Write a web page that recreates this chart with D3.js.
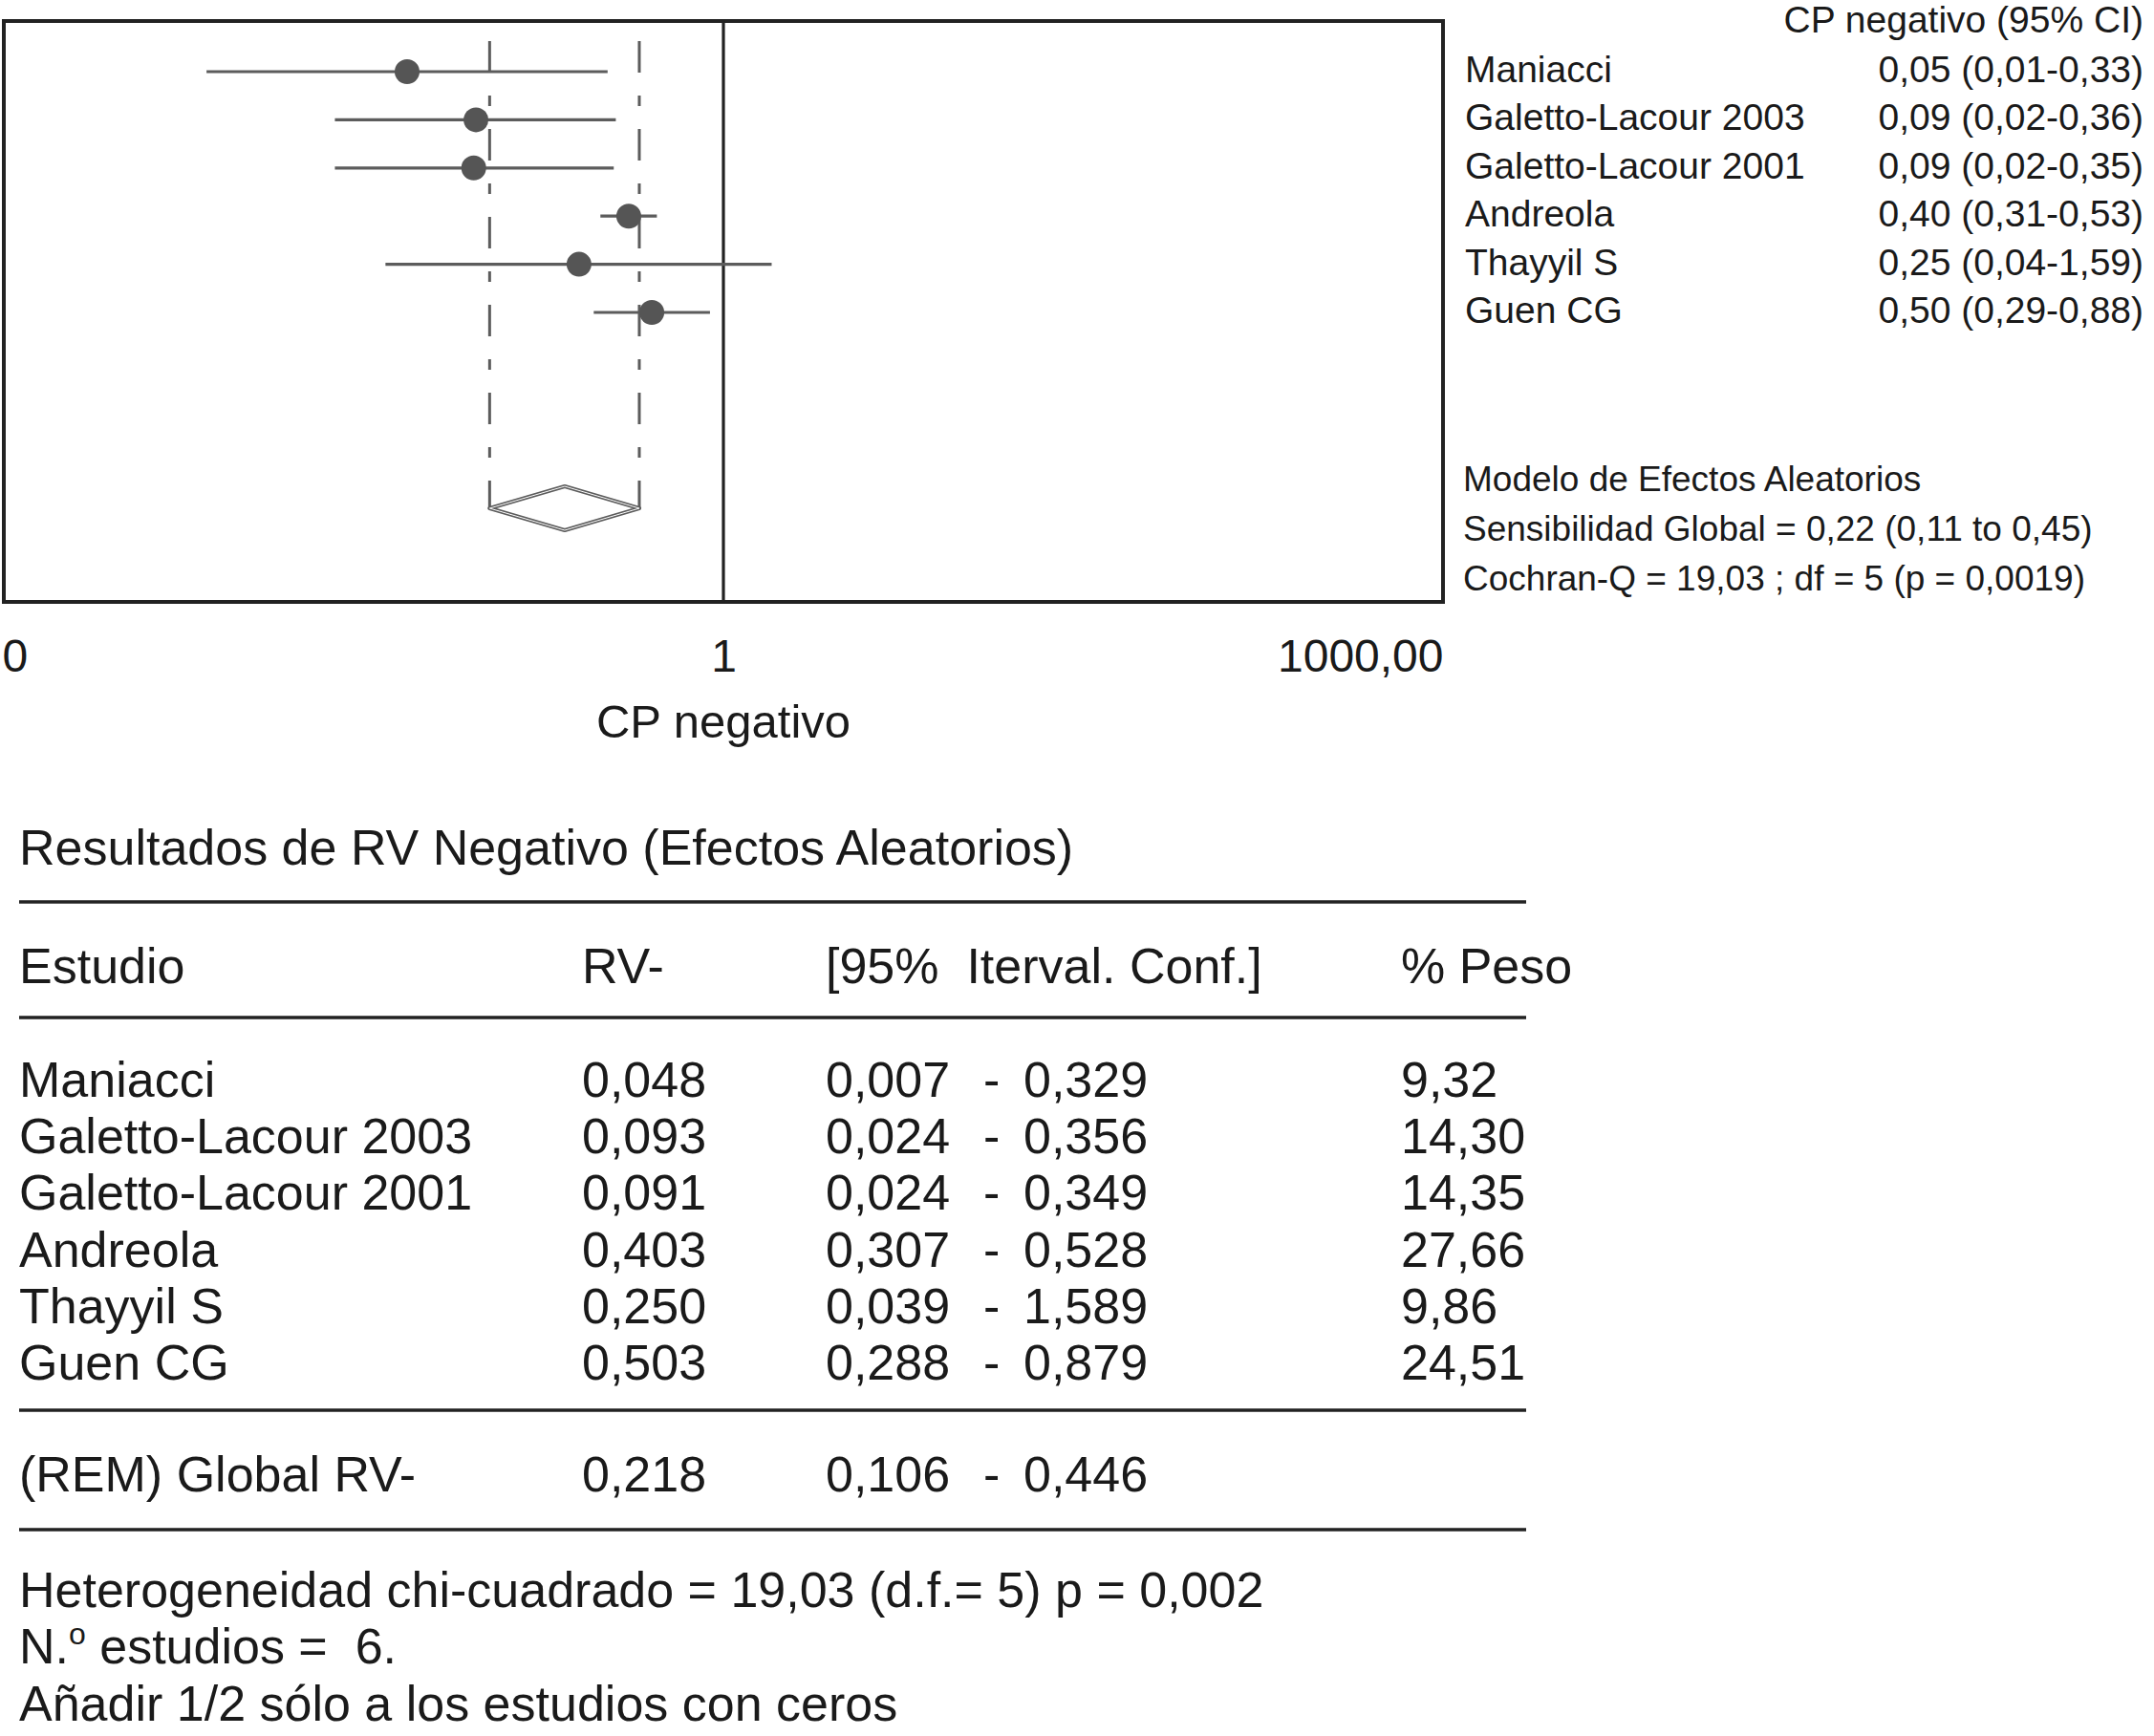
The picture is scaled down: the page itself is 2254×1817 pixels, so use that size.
<!DOCTYPE html>
<html>
<head>
<meta charset="utf-8">
<script src="https://cdn.jsdelivr.net/npm/d3@7"></script>
<style>
  body { margin: 0; background: #fff; }
  svg text { font-family: "Liberation Sans", Arial, sans-serif; fill: #1a1a1a; }
</style>
</head>
<body>
<svg id="chart" width="2254" height="1817"></svg>
<script>
// ---------- DATA ----------
const studies   = ["Maniacci", "Galetto-Lacour 2003", "Galetto-Lacour 2001", "Andreola", "Thayyil S", "Guen CG"];
const rvNeg     = [0.048, 0.093, 0.091, 0.403, 0.250, 0.503];
const ciLow     = [0.007, 0.024, 0.024, 0.307, 0.039, 0.288];
const ciHigh    = [0.329, 0.356, 0.349, 0.528, 1.589, 0.879];
const weights   = [9.32, 14.30, 14.35, 27.66, 9.86, 24.51];
const pooledEst = 0.218, pooledLow = 0.106, pooledHigh = 0.446;
const tickValues = [0.001, 1, 1000];
const tickLabels = ["0", "1", "1000,00"];
const axisTitle = "CP negativo";
const sideHeader = "CP negativo (95% CI)";
const modelLines = [
  "Modelo de Efectos Aleatorios",
  "Sensibilidad Global = 0,22 (0,11 to 0,45)",
  "Cochran-Q = 19,03 ; df = 5 (p = 0,0019)"
];
const tableTitle = "Resultados de RV Negativo (Efectos Aleatorios)";
const tableHeader = ["Estudio", "RV-", "[95%  Iterval. Conf.]", "% Peso"];
const globalLabel = "(REM) Global RV-";
const footHetero = "Heterogeneidad chi-cuadrado = 19,03 (d.f.= 5) p = 0,002";
const footAdd = "Añadir 1/2 sólo a los estudios con ceros";

// ---------- HELPERS ----------
const f2 = v => v.toFixed(2).replace(".", ",");
const f3 = v => v.toFixed(3).replace(".", ",");
const rows = studies.map((s, i) => ({ name: s, est: rvNeg[i], lo: ciLow[i], hi: ciHigh[i], w: weights[i] }));

const svg = d3.select("#chart");
const ink = "#5c5c5c";

// ---------- FOREST PLOT ----------
const box = { left: 4, right: 1510, top: 22, bottom: 630 };
const x = d3.scaleLog().domain([tickValues[0], tickValues[2]]).range([box.left, box.right]);
const y = d3.scalePoint().domain(studies).range([75, 327]);
const pooledY = 532;

svg.append("rect")
  .attr("x", box.left).attr("y", box.top)
  .attr("width", box.right - box.left).attr("height", box.bottom - box.top)
  .attr("fill", "none").attr("stroke", "#222").attr("stroke-width", 4);

svg.append("line")
  .attr("x1", x(1)).attr("x2", x(1)).attr("y1", box.top).attr("y2", box.bottom)
  .attr("stroke", "#222").attr("stroke-width", 3.2);

// dashed pooled CI guides
svg.selectAll("line.guide").data([pooledLow, pooledHigh]).join("line")
  .attr("class", "guide")
  .attr("x1", d => x(d)).attr("x2", d => x(d))
  .attr("y1", 43).attr("y2", pooledY)
  .attr("stroke", ink).attr("stroke-width", 3)
  .attr("stroke-dasharray", "33,24,11,24");

// CI lines
svg.selectAll("line.ci").data(rows).join("line")
  .attr("class", "ci")
  .attr("x1", d => x(d.lo)).attr("x2", d => x(d.hi))
  .attr("y1", d => y(d.name)).attr("y2", d => y(d.name))
  .attr("stroke", ink).attr("stroke-width", 3.2);

// points
svg.selectAll("circle.pt").data(rows).join("circle")
  .attr("class", "pt")
  .attr("cx", d => x(d.est)).attr("cy", d => y(d.name))
  .attr("r", 13).attr("fill", "#555");

// pooled diamond (double-line outline look)
const dh = 23;
const diamond = `M${x(pooledLow)},${pooledY} L${x(pooledEst)},${pooledY - dh} L${x(pooledHigh)},${pooledY} L${x(pooledEst)},${pooledY + dh} Z`;
svg.append("path").attr("d", diamond)
  .attr("fill", "#fff").attr("stroke", ink).attr("stroke-width", 4.2).attr("stroke-linejoin", "round");
svg.append("path").attr("d", diamond)
  .attr("fill", "none").attr("stroke", "#fff").attr("stroke-width", 1).attr("stroke-linejoin", "round");

// axis
const axis = d3.axisBottom(x).tickValues(tickValues).tickFormat((d, i) => tickLabels[i]).tickSize(0).tickPadding(0);
const gAx = svg.append("g").attr("transform", "translate(0,703)").call(axis);
gAx.attr("font-family", null).attr("font-size", 48);
gAx.select(".domain").remove();
gAx.selectAll("text")
  .attr("y", 0).attr("dy", 0)
  .style("fill", "#1a1a1a")
  .attr("text-anchor", (d, i) => i === 0 ? "start" : (i === tickValues.length - 1 ? "end" : "middle"));
gAx.selectAll(".tick").filter((d, i) => i === 0).select("text").attr("x", -2);

svg.append("text").attr("x", x(1)).attr("y", 772)
  .attr("text-anchor", "middle").attr("font-size", 49).text(axisTitle);

// side labels
svg.append("text").attr("x", 2243).attr("y", 34)
  .attr("text-anchor", "end").attr("font-size", 39).text(sideHeader);

svg.selectAll("text.sname").data(rows).join("text")
  .attr("class", "sname")
  .attr("x", 1533).attr("y", d => y(d.name) + 11)
  .attr("font-size", 39).text(d => d.name);

svg.selectAll("text.sval").data(rows).join("text")
  .attr("class", "sval")
  .attr("x", 2243).attr("y", d => y(d.name) + 11)
  .attr("text-anchor", "end").attr("font-size", 39)
  .text(d => `${f2(d.est)} (${f2(d.lo)}-${f2(d.hi)})`);

svg.selectAll("text.model").data(modelLines).join("text")
  .attr("class", "model")
  .attr("x", 1531).attr("y", (d, i) => 514 + i * 52)
  .attr("font-size", 37).text(d => d);

// ---------- TABLE ----------
const fs = 52;
const col = { name: 20, rv: 609, lo: 864, dash: 1029, hi: 1071, w: 1466 };
const ruleX1 = 20, ruleX2 = 1597;

svg.append("text").attr("x", col.name).attr("y", 905).attr("font-size", fs).text(tableTitle);

svg.selectAll("line.rule").data([944, 1065, 1476, 1601]).join("line")
  .attr("class", "rule")
  .attr("x1", ruleX1).attr("x2", ruleX2).attr("y1", d => d).attr("y2", d => d)
  .attr("stroke", "#222").attr("stroke-width", 3.5);

const hdrX = [col.name, col.rv, col.lo, col.w];
svg.selectAll("text.hdr").data(tableHeader).join("text")
  .attr("class", "hdr")
  .attr("x", (d, i) => hdrX[i]).attr("y", 1029)
  .attr("font-size", fs).style("white-space", "pre").text(d => d);

const rowY = i => 1148 + i * 59.2;
const gRows = svg.selectAll("g.trow").data(rows).join("g")
  .attr("class", "trow")
  .attr("transform", (d, i) => `translate(0,${rowY(i)})`)
  .attr("font-size", fs);
gRows.append("text").attr("x", col.name).text(d => d.name);
gRows.append("text").attr("x", col.rv).text(d => f3(d.est));
gRows.append("text").attr("x", col.lo).text(d => f3(d.lo));
gRows.append("text").attr("x", col.dash).text("-");
gRows.append("text").attr("x", col.hi).text(d => f3(d.hi));
gRows.append("text").attr("x", col.w).text(d => f2(d.w));

const gG = svg.append("g").attr("transform", "translate(0,1561)").attr("font-size", fs);
gG.append("text").attr("x", col.name).text(globalLabel);
gG.append("text").attr("x", col.rv).text(f3(pooledEst));
gG.append("text").attr("x", col.lo).text(f3(pooledLow));
gG.append("text").attr("x", col.dash).text("-");
gG.append("text").attr("x", col.hi).text(f3(pooledHigh));

svg.append("text").attr("x", col.name).attr("y", 1682).attr("font-size", fs).text(footHetero);
const nt = svg.append("text").attr("x", col.name).attr("y", 1741).attr("font-size", fs).style("white-space", "pre");
nt.append("tspan").text("N.");
nt.append("tspan").attr("font-size", 32).attr("dy", -20).text("o");
nt.append("tspan").attr("dy", 20).text(" estudios =  " + studies.length + ".");
svg.append("text").attr("x", col.name).attr("y", 1801).attr("font-size", fs).text(footAdd);
</script>
</body>
</html>
